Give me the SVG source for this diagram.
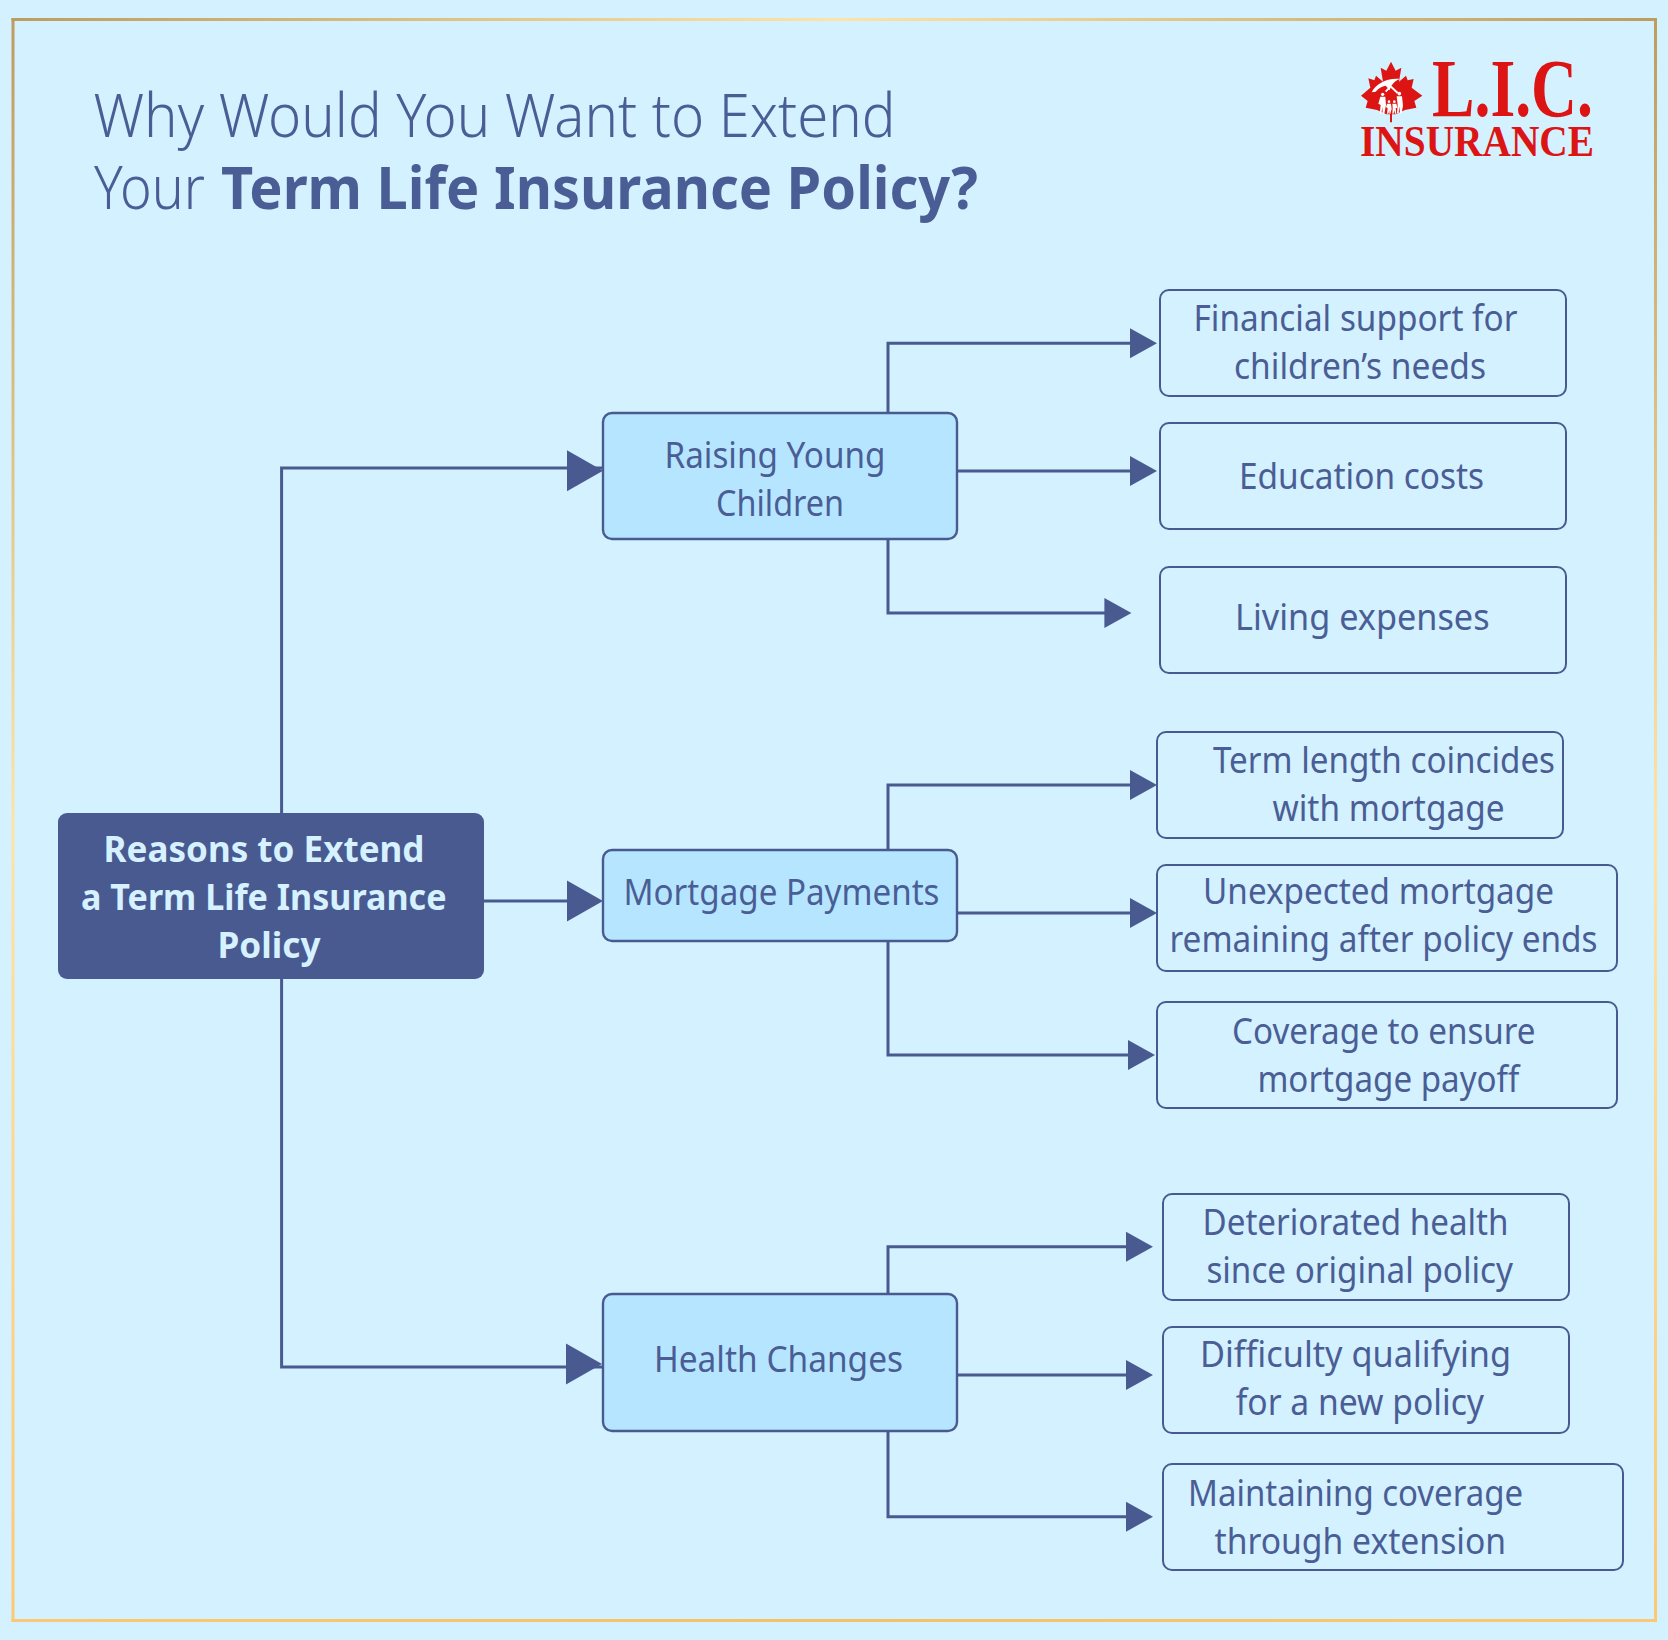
<svg xmlns="http://www.w3.org/2000/svg" width="1668" height="1640" viewBox="0 0 1668 1640">
<style>
text{font-family:"Noto Sans","Open Sans","Liberation Sans",sans-serif;fill:#4a5e95}
.title{font-size:60px;font-weight:300}
.titleb{font-size:60px;font-weight:700}
.t{font-size:36px;font-weight:400}
.rt{font-size:36px;font-weight:700;fill:#d6f1ff}
.logo{font-family:"Liberation Serif","Times New Roman",serif;font-weight:700;fill:#dc1414}
.leaf{fill:#d4f1ff;stroke:#495a91;stroke-width:2}
.mid{fill:#b6e6ff;stroke:#495a91;stroke-width:2.4}
.c{fill:none;stroke:#495a91;stroke-width:3}
</style>
<defs>
<linearGradient id="frh" x1="0" y1="0" x2="1" y2="0">
<stop offset="0" stop-color="#bd9c5f"/><stop offset=".5" stop-color="#ffe3a6"/><stop offset="1" stop-color="#bd9c5f"/>
</linearGradient>
<linearGradient id="frb" x1="0" y1="0" x2="1" y2="0">
<stop offset="0" stop-color="#fdc873"/><stop offset=".5" stop-color="#f3c266"/><stop offset="1" stop-color="#fdc873"/>
</linearGradient>
<linearGradient id="frv" x1="0" y1="0" x2="0" y2="1">
<stop offset="0" stop-color="#bd9c5f"/><stop offset=".5" stop-color="#ffe3a6"/><stop offset="1" stop-color="#fdc873"/>
</linearGradient>
<marker id="s" markerUnits="userSpaceOnUse" markerWidth="30" markerHeight="34" refX="22" refY="15" orient="0" overflow="visible"><path d="M0 0L27 15L0 30Z" fill="#495a91"/></marker>
<marker id="l" markerUnits="userSpaceOnUse" markerWidth="40" markerHeight="46" refX="32" refY="20.5" orient="0" overflow="visible"><path d="M0 0L36 20.5L0 41Z" fill="#495a91"/></marker>
<marker id="la" markerUnits="userSpaceOnUse" markerWidth="40" markerHeight="46" refX="36" refY="17.8" orient="0" overflow="visible"><path d="M0 0L36 20.5L0 41Z" fill="#495a91"/></marker>
<marker id="lb" markerUnits="userSpaceOnUse" markerWidth="40" markerHeight="46" refX="37" refY="23.5" orient="0" overflow="visible"><path d="M0 0L36 20.5L0 41Z" fill="#495a91"/></marker>
</defs>
<rect width="1668" height="1640" fill="#d4f1ff"/>
<g id="frame">
<rect x="11.5" y="18" width="3" height="1604" fill="url(#frv)"/>
<rect x="1654" y="18" width="3" height="1604" fill="url(#frv)"/>
<rect x="11.5" y="18" width="1645.5" height="3" fill="url(#frh)"/>
<rect x="11.5" y="1619" width="1645.5" height="3" fill="url(#frb)"/>
</g>
<g id="title">
<text class="title" x="93.5" y="137" textLength="802" lengthAdjust="spacingAndGlyphs">Why Would You Want to Extend</text>
<text class="title" x="94" y="209" textLength="111" lengthAdjust="spacingAndGlyphs">Your</text>
<text class="titleb" x="221" y="208.5" textLength="757" lengthAdjust="spacingAndGlyphs">Term Life Insurance Policy?</text>
</g>
<g id="logo">
<g transform="translate(1355 55) scale(.3333)">
<path fill="#dc1414" d="M108 20L122 47L139 38L132 80L153 62L158 76L176 72L170 98L202 122L178 138L184 158L150 165L122 178L111 178L111 202L105 202L105 178L94 178L66 165L32 158L38 138L18 122L46 98L40 70L58 76L63 62L84 80L77 38L94 47Z"/>
<g fill="#fff">
<path d="M50 112C62 88 95 68 135 72C118 78 108 90 104 106L92 92C80 94 70 100 62 110Z"/>
<path d="M90 108L107 90L130 112L126 116L107 98L94 112Z"/>
<circle cx="83" cy="118" r="5"/><path d="M76 125H91L93 150L88 176H83L82 156L79 176H74L77 150L70 146Z"/>
<circle cx="133" cy="116" r="5.5"/><path d="M125 124H141L144 152L140 174H135L133 154L131 174H126L128 150Z"/>
<circle cx="102" cy="140" r="4"/><path d="M96 146H108L110 162L106 176H103V165L100 176H96L98 160L93 156Z"/>
<circle cx="118" cy="140" r="4"/><path d="M112 146H124L127 158L122 160L124 176H120L118 165L116 176H112L113 160Z"/>
</g>
</g>
<text class="logo" x="1432" y="116" font-size="82" textLength="161" lengthAdjust="spacingAndGlyphs">L.I.C.</text>
<text class="logo" x="1360" y="156" font-size="44" textLength="234" lengthAdjust="spacingAndGlyphs">INSURANCE</text>
</g>
<g id="connectors">
<path class="c" d="M281.6 813V468H603" marker-end="url(#la)"/>
<path class="c" d="M484 901H599" marker-end="url(#l)"/>
<path class="c" d="M281.6 979V1367H603" marker-end="url(#lb)"/>
<path class="c" d="M888 413V343.3H1152" marker-end="url(#s)"/>
<path class="c" d="M957 471H1152" marker-end="url(#s)"/>
<path class="c" d="M888 539V613H1126.4" marker-end="url(#s)"/>
<path class="c" d="M888 850V785H1152" marker-end="url(#s)"/>
<path class="c" d="M957 913H1152" marker-end="url(#s)"/>
<path class="c" d="M888 941V1055H1150" marker-end="url(#s)"/>
<path class="c" d="M888 1294V1246.7H1148" marker-end="url(#s)"/>
<path class="c" d="M957 1375H1148" marker-end="url(#s)"/>
<path class="c" d="M888 1431V1516.7H1148" marker-end="url(#s)"/>
</g>
<g id="root">
<rect x="58" y="813" width="426" height="166" rx="9" fill="#495a91"/>
<text class="rt" x="103.5" y="861.5" textLength="321" lengthAdjust="spacingAndGlyphs">Reasons to Extend</text>
<text class="rt" x="81" y="910" textLength="365.5" lengthAdjust="spacingAndGlyphs">a Term Life Insurance</text>
<text class="rt" x="217.5" y="957.5" textLength="103" lengthAdjust="spacingAndGlyphs">Policy</text>
</g>
<g id="raising-young-children">
<rect class="mid" x="603" y="413" width="354" height="126" rx="9"/>
<text class="t" x="664.5" y="468" textLength="221" lengthAdjust="spacingAndGlyphs">Raising Young</text>
<text class="t" x="716" y="516" textLength="128" lengthAdjust="spacingAndGlyphs">Children</text>
</g>
<g id="mortgage-payments">
<rect class="mid" x="603" y="850" width="354" height="91" rx="9"/>
<text class="t" x="623.5" y="904.5" textLength="316" lengthAdjust="spacingAndGlyphs">Mortgage Payments</text>
</g>
<g id="health-changes">
<rect class="mid" x="603" y="1294" width="354" height="137" rx="9"/>
<text class="t" x="654" y="1372" textLength="249" lengthAdjust="spacingAndGlyphs">Health Changes</text>
</g>
<g id="financial-support">
<rect class="leaf" x="1160" y="290" width="406" height="106" rx="9"/>
<text class="t" x="1193.5" y="331" textLength="324" lengthAdjust="spacingAndGlyphs">Financial support for</text>
<text class="t" x="1234" y="378.7" textLength="252" lengthAdjust="spacingAndGlyphs">children’s needs</text>
</g>
<g id="education-costs">
<rect class="leaf" x="1160" y="423" width="406" height="106" rx="9"/>
<text class="t" x="1239" y="488.6" textLength="245" lengthAdjust="spacingAndGlyphs">Education costs</text>
</g>
<g id="living-expenses">
<rect class="leaf" x="1160" y="567" width="406" height="106" rx="9"/>
<text class="t" x="1235" y="629.6" textLength="254.6" lengthAdjust="spacingAndGlyphs">Living expenses</text>
</g>
<g id="term-length">
<rect class="leaf" x="1157" y="732" width="406" height="106" rx="9"/>
<text class="t" x="1213" y="772.8" textLength="342" lengthAdjust="spacingAndGlyphs">Term length coincides</text>
<text class="t" x="1272.5" y="821" textLength="232" lengthAdjust="spacingAndGlyphs">with mortgage</text>
</g>
<g id="unexpected-mortgage">
<rect class="leaf" x="1157" y="865" width="460" height="106" rx="9"/>
<text class="t" x="1203" y="903.6" textLength="351" lengthAdjust="spacingAndGlyphs">Unexpected mortgage</text>
<text class="t" x="1169.5" y="951.6" textLength="428" lengthAdjust="spacingAndGlyphs">remaining after policy ends</text>
</g>
<g id="coverage-payoff">
<rect class="leaf" x="1157" y="1002" width="460" height="106" rx="9"/>
<text class="t" x="1232" y="1043.6" textLength="303.6" lengthAdjust="spacingAndGlyphs">Coverage to ensure</text>
<text class="t" x="1257.4" y="1091.6" textLength="262" lengthAdjust="spacingAndGlyphs">mortgage payoff</text>
</g>
<g id="deteriorated-health">
<rect class="leaf" x="1163" y="1194" width="406" height="106" rx="9"/>
<text class="t" x="1202.5" y="1235" textLength="306" lengthAdjust="spacingAndGlyphs">Deteriorated health</text>
<text class="t" x="1206.4" y="1283" textLength="306.6" lengthAdjust="spacingAndGlyphs">since original policy</text>
</g>
<g id="difficulty-qualifying">
<rect class="leaf" x="1163" y="1327" width="406" height="106" rx="9"/>
<text class="t" x="1200" y="1367" textLength="311" lengthAdjust="spacingAndGlyphs">Difficulty qualifying</text>
<text class="t" x="1235.7" y="1415" textLength="248.3" lengthAdjust="spacingAndGlyphs">for a new policy</text>
</g>
<g id="maintaining-coverage">
<rect class="leaf" x="1163" y="1464" width="460" height="106" rx="9"/>
<text class="t" x="1188" y="1506" textLength="335" lengthAdjust="spacingAndGlyphs">Maintaining coverage</text>
<text class="t" x="1214.5" y="1554" textLength="291.6" lengthAdjust="spacingAndGlyphs">through extension</text>
</g>
</svg>
